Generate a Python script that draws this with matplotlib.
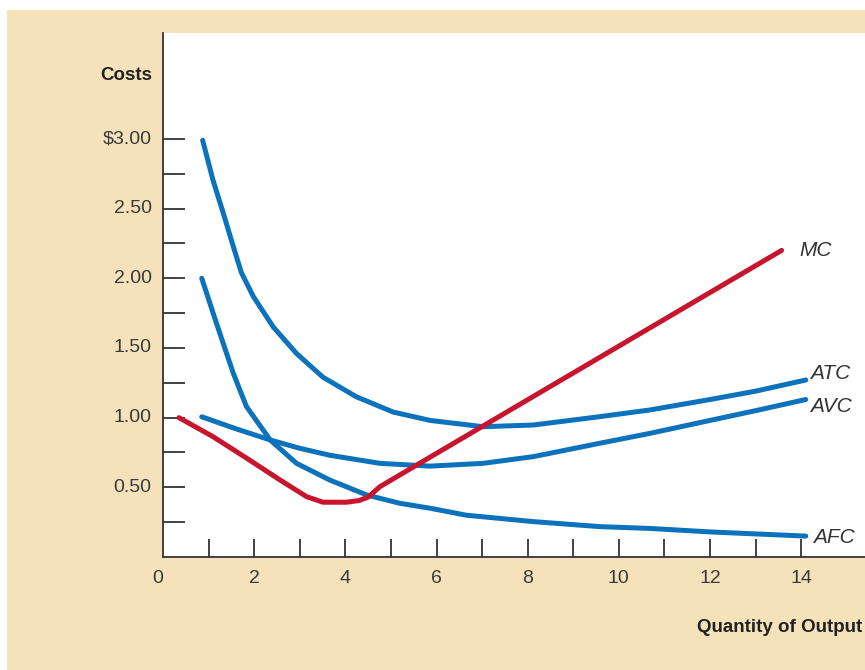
import matplotlib.pyplot as plt
from matplotlib.patches import Rectangle

BLUE = '#0b72bb'
RED = '#c8142c'
BEIGE = '#f5e2bb'

# curve values
atc_q = [0.87, 1.10, 1.32, 1.54, 1.72, 1.98, 2.42, 2.93, 3.51, 4.24, 5.05, 5.86,
         7.02, 8.12, 9.58, 10.68, 12.0, 13.0, 14.1]
atc_c = [2.99, 2.70, 2.47, 2.23, 2.04, 1.87, 1.65, 1.46, 1.29, 1.15, 1.04, 0.98,
         0.935, 0.947, 1.007, 1.055, 1.13, 1.19, 1.27]

avc_q = [0.85, 1.6, 2.35, 3.0, 3.66, 4.76, 5.86, 7.02, 8.12, 9.58, 10.68, 12.0, 13.0, 14.1]
avc_c = [1.006, 0.92, 0.84, 0.78, 0.73, 0.672, 0.652, 0.672, 0.72, 0.816, 0.887, 0.98, 1.05, 1.13]

afc_q = [0.85, 1.17, 1.54, 1.83, 2.2, 2.35, 2.93, 3.66, 4.47, 5.2, 5.86, 6.65, 8.12,
         9.58, 10.68, 12.0, 14.1]
afc_c = [2.0, 1.68, 1.32, 1.08, 0.91, 0.84, 0.672, 0.552, 0.445, 0.385, 0.35, 0.30, 0.254,
         0.218, 0.205, 0.18, 0.15]

mc_q = [0.35, 1.10, 1.83, 2.57, 3.15, 3.51, 4.02, 4.30, 4.50, 4.76, 13.57]
mc_c = [1.0, 0.863, 0.71, 0.552, 0.433, 0.393, 0.393, 0.405, 0.43, 0.505, 2.2]

x_ticks = list(range(1, 15))
x_labels = [0, 2, 4, 6, 8, 10, 12, 14]
y_ticks = [0.25 * i for i in range(1, 13)]
y_labels = ['0.50', '1.00', '1.50', '2.00', '2.50', '$3.00']
y_label_vals = [0.5, 1.0, 1.5, 2.0, 2.5, 3.0]

plt.rcParams['font.family'] = ['Liberation Sans', 'DejaVu Sans']

fig = plt.figure(figsize=(8.65, 6.7), dpi=100)
fig.patch.set_facecolor('white')
fig.patches.append(Rectangle((7 / 865, 0), 1, 660 / 670, transform=fig.transFigure,
                             facecolor=BEIGE, edgecolor='none', zorder=-10))

ax = fig.add_axes([163 / 865, (670 - 557) / 670, (865 - 163) / 865, (557 - 33) / 670])
ax.set_facecolor('white')
ax.set_xlim(0, 15.4)
ax.set_ylim(0, 3.76)

for s in ['top', 'right']:
    ax.spines[s].set_visible(False)
for s in ['left', 'bottom']:
    ax.spines[s].set_color('#333333')
    ax.spines[s].set_linewidth(1.3)

ax.set_xticks(x_ticks)
ax.set_xticklabels([])
ax.set_yticks(y_ticks)
ax.set_yticklabels([])
ax.tick_params(axis='x', direction='in', length=13, width=1.3, color='#333333')
ax.tick_params(axis='y', direction='in', length=16, width=1.3, color='#333333')

for v in x_labels:
    xx = v - 0.12 if v == 0 else v
    ax.text(xx, -0.09, str(v), ha='center', va='top', fontsize=14, color='#3a3a3a',
            clip_on=False)
for v, t in zip(y_label_vals, y_labels):
    ax.text(-0.25, v, t, ha='right', va='center', fontsize=14, color='#3a3a3a',
            clip_on=False)

lw = 3.6
for q, c in [(atc_q, atc_c), (avc_q, avc_c), (afc_q, afc_c)]:
    ax.plot(q, c, color=BLUE, lw=lw, solid_capstyle='round', solid_joinstyle='round')
ax.plot(mc_q, mc_c, color=RED, lw=lw, solid_capstyle='round', solid_joinstyle='round')

lab = dict(fontsize=15, style='italic', color='#333333', va='center', ha='left')
ax.text(13.95, 2.2, 'MC', **lab)
ax.text(14.2, 1.32, 'ATC', **lab)
ax.text(14.2, 1.08, 'AVC', **lab)
ax.text(14.25, 0.14, 'AFC', **lab)

fig.text(152 / 865, 1 - 75 / 670, 'Costs', ha='right', va='center', fontsize=13.5,
         fontweight='bold', color='#222222')
fig.text(862 / 865, 1 - 627 / 670, 'Quantity of Output', ha='right', va='center',
         fontsize=13.5, fontweight='bold', color='#222222')

fig.savefig('out.png', dpi=100, facecolor=fig.get_facecolor())
